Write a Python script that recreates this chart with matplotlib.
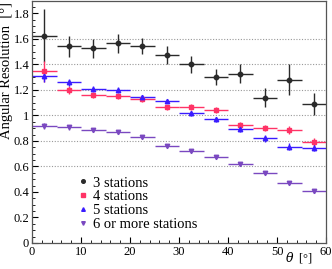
import matplotlib
matplotlib.use("Agg")
import matplotlib.pyplot as plt
from matplotlib.lines import Line2D
import numpy as np

plt.rcParams['font.family'] = ['Liberation Serif', 'DejaVu Serif']
plt.rcParams['mathtext.fontset'] = 'dejavuserif'

bin_edges = [0, 5, 10, 15, 20, 25, 30, 35, 40, 45, 50, 55, 60]
labels = ["3 stations", "4 stations", "5 stations", "6 or more stations"]

res_3 = [1.625, 1.54, 1.525, 1.565, 1.545, 1.475, 1.40, 1.30, 1.328, 1.138, 1.281, 1.088]
err_3 = [0.21, 0.08, 0.075, 0.075, 0.065, 0.07, 0.065, 0.06, 0.075, 0.075, 0.12, 0.085]
res_4 = [1.344, 1.20, 1.162, 1.154, 1.127, 1.065, 1.065, 1.04, 0.927, 0.90, 0.885, 0.79]
err_4 = [0.08, 0.03, 0.025, 0.025, 0.02, 0.02, 0.025, 0.025, 0.025, 0.025, 0.03, 0.035]
res_5 = [1.31, 1.258, 1.208, 1.20, 1.143, 1.112, 1.018, 0.969, 0.893, 0.82, 0.755, 0.748]
err_5 = [0.045, 0.03, 0.02, 0.02, 0.02, 0.015, 0.02, 0.02, 0.02, 0.025, 0.025, 0.03]
res_6 = [0.916, 0.906, 0.883, 0.87, 0.83, 0.763, 0.724, 0.677, 0.617, 0.552, 0.474, 0.404]
err_6 = [0.025, 0.02, 0.015, 0.015, 0.01, 0.01, 0.01, 0.01, 0.01, 0.012, 0.012, 0.012]

colors = ["#2a2a2a", "#ff3366", "#3a1cff", "#7a48c0"]
markers = ["o", "s", "^", "v"]

edges = np.array(bin_edges, dtype=float)
centers = (edges[:-1] + edges[1:]) / 2
halfw = (edges[1:] - edges[:-1]) / 2

fig = plt.figure(figsize=(3.32, 2.69), dpi=100)
ax = fig.add_axes([0.0964, 0.0967, 0.8856, 0.9013])

for yv in [0.6, 0.8, 1.0, 1.2, 1.4, 1.6]:
    ax.axhline(yv, color="#999999", lw=0.8, ls=(0, (1, 1.5)), zorder=0)

series = [(res_3, err_3), (res_4, err_4), (res_5, err_5), (res_6, err_6)]
handles = []
for (vals, errs), c, m, lab in zip(series, colors, markers, labels):
    ax.errorbar(centers, vals, xerr=halfw, yerr=errs, fmt=m, color=c,
                ms=3.2, lw=1.0, elinewidth=1.0, capsize=0)
    handles.append(Line2D([], [], ls="none", marker=m, color=c, ms=2.6, label=lab))

ax.set_xlim(0, 60)
ax.set_ylim(0, 1.9)
ax.set_xticks([0, 10, 20, 30, 40, 50, 60])
ax.set_xticks(np.arange(0, 61, 2), minor=True)
ax.set_yticks([0, 0.2, 0.4, 0.6, 0.8, 1.0, 1.2, 1.4, 1.6, 1.8])
ax.set_yticklabels(["0", "0.2", "0.4", "0.6", "0.8", "1", "1.2", "1.4", "1.6", "1.8"])
ax.set_yticks(np.arange(0, 1.9, 0.05), minor=True)
ax.tick_params(which="both", direction="in", labelsize=9, pad=2)
ax.tick_params(which="major", length=4)
ax.tick_params(which="minor", length=2)
for s in ax.spines.values():
    s.set_color("#555555")
    s.set_linewidth(0.9)

ax.set_ylabel("Angular Resolution  [°]", fontsize=10.5)
ax.yaxis.set_label_coords(-0.088, 0.995)
ax.yaxis.label.set_va("center")
ax.yaxis.label.set_ha("right")
ax.set_xlabel(r"$\theta$  [°]", fontsize=9)
ax.xaxis.set_label_coords(0.955, -0.092)
ax.xaxis.label.set_ha("right")
ax.xaxis.label.set_va("bottom")

ax.legend(handles=handles, loc="upper left", bbox_to_anchor=(0.135, 0.305), frameon=False,
          fontsize=10.5, handlelength=0.5, handletextpad=0.45,
          labelspacing=0.05, borderpad=0)

fig.savefig("out.png", dpi=100)
